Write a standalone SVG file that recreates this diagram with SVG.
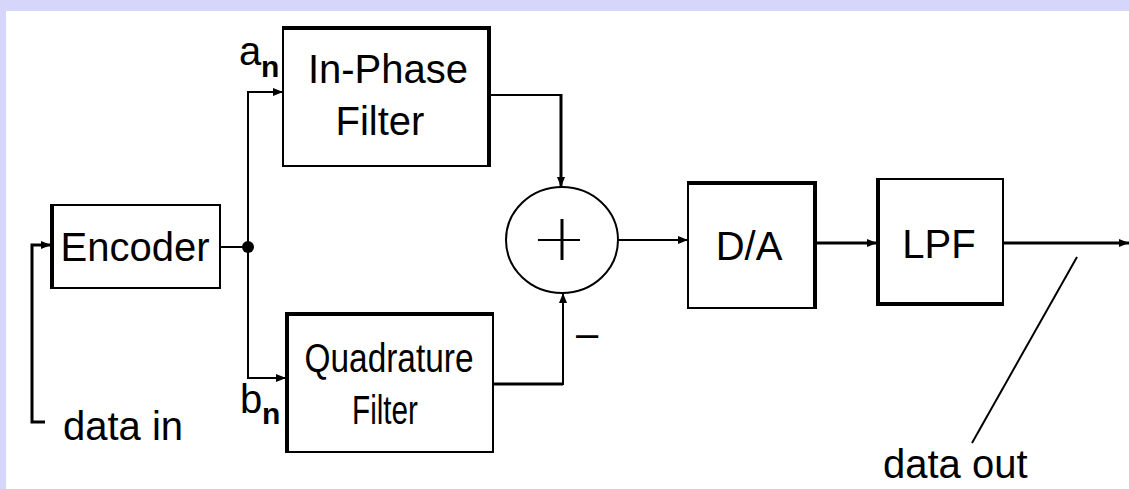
<svg xmlns="http://www.w3.org/2000/svg" width="1129" height="489" viewBox="0 0 1129 489">
<defs>
<marker id="ah" markerWidth="10" markerHeight="10" refX="10" refY="5" orient="auto" markerUnits="userSpaceOnUse" viewBox="0 0 10 10"><path d="M0,1 L10,5 L0,9 z" fill="#000"/></marker>
</defs>
<style>
.box{fill:#fff;stroke:#000;stroke-width:2}
.heavy{stroke:#000;stroke-width:4;fill:none}
.wire{stroke:#000;stroke-width:2;fill:none}
.wire3{stroke:#000;stroke-width:3;fill:none}
text{font-family:"Liberation Sans",Arial,sans-serif;font-size:40px;fill:#000}
.mid{text-anchor:middle}
.sub{font-size:30px;font-weight:bold}
</style>
<rect width="1129" height="489" fill="#fff"/>
<rect width="1129" height="11" fill="#d6d6fa"/>
<rect width="6" height="489" fill="#d6d6fa"/>

<g id="connectors">
<path class="wire3" d="M45,422 H32 V245 H51" marker-end="url(#ah)"/>
<path class="wire" d="M220,247 H248"/>
<circle cx="248" cy="247" r="6" fill="#000"/>
<path class="wire" d="M248,247 V92 H283" marker-end="url(#ah)"/>
<path class="wire" d="M248,247 V378 H286" marker-end="url(#ah)"/>
<path class="wire" d="M490,95 H561"/>
<path class="wire3" d="M561,94 V187" marker-end="url(#ah)"/>
<path class="wire3" d="M493,384 H563"/>
<path class="wire" d="M563,385 V293" marker-end="url(#ah)"/>
<path class="wire" d="M618,240 H688" marker-end="url(#ah)"/>
<path class="wire3" d="M816,243 H877" marker-end="url(#ah)"/>
<path class="wire3" d="M1003,243 H1129" marker-end="url(#ah)"/>
<path class="wire" d="M1077,257 L972,443"/>
</g>

<g id="encoder">
<rect class="box" x="51" y="205" width="169" height="83"/>
<path class="heavy" d="M52,204 V289"/>
<text class="mid" x="135" y="261">Encoder</text>
</g>

<g id="inphase">
<rect class="box" x="283" y="27" width="207" height="139"/>
<path class="heavy" d="M282,28 H489 V167"/>
<text class="mid" x="388" y="83">In-Phase</text>
<text class="mid" x="380" y="135">Filter</text>
</g>

<g id="quadrature">
<rect class="box" x="286" y="313" width="207" height="139"/>
<path class="heavy" d="M287,453 V314 H494"/>
<text class="mid" x="389" y="372" textLength="169" lengthAdjust="spacingAndGlyphs">Quadrature</text>
<text class="mid" x="385" y="424" textLength="66" lengthAdjust="spacingAndGlyphs">Filter</text>
</g>

<g id="summer">
<ellipse cx="562" cy="240" rx="56" ry="53" fill="#fff" stroke="#000" stroke-width="2"/>
<path class="wire" d="M538,240 H580"/>
<path class="wire3" d="M562,219 V260"/>
<text class="mid" x="587" y="347">–</text>
</g>

<g id="da">
<rect class="box" x="688" y="182" width="128" height="126"/>
<path class="heavy" d="M687,183 H815 V309"/>
<text class="mid" x="749" y="260">D/A</text>
</g>

<g id="lpf">
<rect class="box" x="877" y="179" width="126" height="126"/>
<path class="heavy" d="M878,178 V304 H1004"/>
<text class="mid" x="939" y="258">LPF</text>
</g>

<g id="labels">
<text x="239" y="65" font-size="42">a<tspan class="sub" x="261" y="77">n</tspan></text>
<text x="240" y="413" font-size="42">b<tspan class="sub" x="262" y="424">n</tspan></text>
<text x="63" y="440">data in</text>
<text x="883" y="478">data out</text>
</g>
</svg>
